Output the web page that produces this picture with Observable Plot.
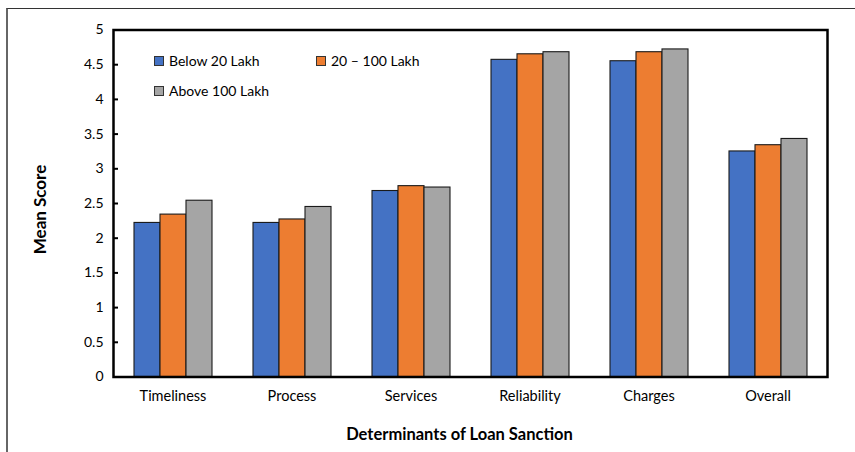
<!DOCTYPE html>
<html>
<head>
<meta charset="utf-8">
<script src="https://cdn.jsdelivr.net/npm/d3@7"></script>
<script src="https://cdn.jsdelivr.net/npm/@observablehq/plot@0.6"></script>
<style>
  body { margin: 0; background: #fff; }
  #chart { position: relative; width: 855px; height: 452px; font-family: Lato, "Liberation Sans", sans-serif; color: #000; }
  #chart svg { position: absolute; left: 0; top: 0; }
  #edge { position: absolute; left: 6px; top: 8px; right: 0; bottom: 0; border-top: 1.5px solid #333; border-left: 2px solid #666; pointer-events: none; }
  .key { position: absolute; display: flex; align-items: center; font-size: 14px; white-space: nowrap; }
  .key i { display: inline-block; width: 8px; height: 8px; border: 1px solid #333; margin-right: 5px; }
</style>
</head>
<body>
<div id="chart"><div id="edge"></div></div>
<script>
// Mean scores by determinant and loan size
const categories = ["Timeliness", "Process", "Services", "Reliability", "Charges", "Overall"];
const series = ["Below 20 Lakh", "20 – 100 Lakh", "Above 100 Lakh"];
const below20 = [2.22, 2.22, 2.68, 4.57, 4.55, 3.25];
const lakh20to100 = [2.34, 2.27, 2.75, 4.65, 4.68, 3.34];
const above100 = [2.54, 2.45, 2.73, 4.68, 4.72, 3.43];
const colors = ["#4472C4", "#ED7D31", "#A5A5A5"];
const yTicks = [0, 0.5, 1, 1.5, 2, 2.5, 3, 3.5, 4, 4.5, 5];

const valuesBySeries = [below20, lakh20to100, above100];
const rows = categories.flatMap((category, i) =>
  series.map((group, s) => ({ category, group, value: valuesBySeries[s][i] }))
);

const chart = Plot.plot({
  width: 855,
  height: 452,
  marginLeft: 112,
  marginRight: 28,
  marginTop: 29.5,
  marginBottom: 75.5,
  style: { fontFamily: "Lato, 'Liberation Sans', sans-serif", fontSize: "13px", color: "#000", background: "transparent", overflow: "visible" },
  // each category cell spans its full width; the cluster of three bars fills the middle two thirds
  fx: { domain: categories, padding: 0, label: null },
  x: { domain: series, paddingInner: 0, paddingOuter: 0.75, axis: null },
  y: { domain: [0, 5], ticks: yTicks },
  color: { domain: series, range: colors },
  marks: [
    Plot.barY(rows, { fx: "category", x: "group", y: "value", fill: "group", stroke: "#1a1a1a", strokeWidth: 1.1 }),
    Plot.axisFx({ anchor: "bottom", tickSize: 0, tickPadding: 14, label: null, fontSize: 14.5 }),
    Plot.axisY({ ticks: yTicks, tickSize: -5, tickPadding: 15, tickFormat: d => String(d), label: null, fontSize: 14, strokeWidth: 2 }),
    Plot.frame({ stroke: "#000", strokeWidth: 2.5, facet: "super" }),
    Plot.text(["Mean Score"], { text: d => d, frameAnchor: "left", textAnchor: "middle", rotate: -90, dx: -73, dy: 6, fontWeight: "bold", fontSize: 17, facet: "super" }),
    Plot.text(["Determinants of Loan Sanction"], { text: d => d, frameAnchor: "bottom", dy: 63, dx: -11, fontWeight: "bold", fontSize: 16.5, facet: "super" })
  ]
});
document.getElementById("chart").appendChild(chart);

// Legend inside the plot area, two columns
const keyPos = [[154, 61], [316, 61], [154, 91]];
series.forEach((name, s) => {
  const key = document.createElement("div");
  key.className = "key";
  key.style.left = keyPos[s][0] + "px";
  key.style.top = (keyPos[s][1] - 9) + "px";
  key.innerHTML = `<i style="background:${colors[s]}"></i><span></span>`;
  key.querySelector("span").textContent = name;
  document.getElementById("chart").appendChild(key);
});
</script>
</body>
</html>
